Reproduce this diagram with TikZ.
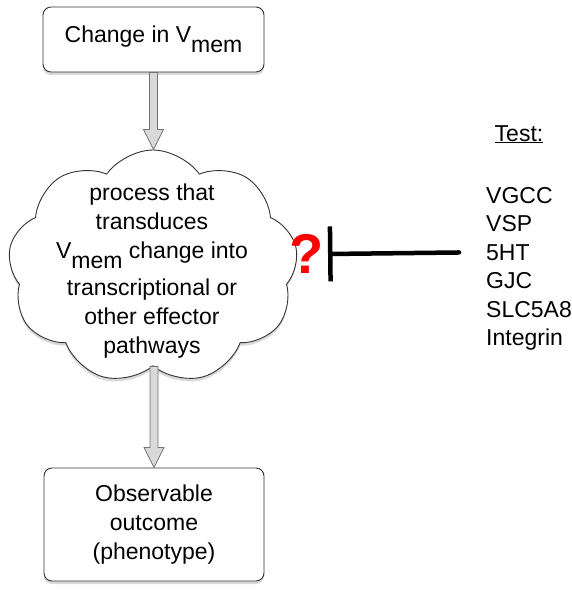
\documentclass[tikz,border=0pt]{standalone}
\usepackage{fontspec}
\setmainfont{Liberation Sans}
\usetikzlibrary{positioning,calc,shapes.symbols,shadows,arrows.meta}
\newcommand{\Vmem}{V\raisebox{-0.42em}{mem}}

\begin{document}
\begin{tikzpicture}[x=1pt, y=-1pt,
    every node/.style={font=\fontsize{23}{29}\selectfont},
    box/.style={draw=black!80, rounded corners=8pt, fill=white, line width=0.9pt, align=center, drop shadow={shadow xshift=0pt, shadow yshift=-3pt, opacity=0.3}},
    fatarrow/.style={draw=black!55, fill=black!15, line width=0.8pt},
    item/.style={anchor=base west, inner sep=3pt}]
    \useasboundingbox (0,0) rectangle (572,599);
    \node[box, minimum width=221pt, minimum height=65pt] (change) at (153.5,39.5) {Change in \Vmem};
    \node[draw=black!80, fill=white, line width=0.9pt, cloud, cloud puffs=9, cloud puff arc=110, cloud ignores aspect, minimum width=290pt, minimum height=234pt, drop shadow={shadow xshift=0pt, shadow yshift=-3pt, opacity=0.3}] (cloud) at (153,267) {};
    \node[align=center] (process) at (152,271) {process that\\transduces\\\Vmem{} change into\\[8pt]transcriptional or\\other effector\\pathways};
    \node[box, minimum width=220pt, minimum height=113pt] (outcome) at (154,524.5) {Observable\\outcome\\(phenotype)};
    % hollow arrows between the steps
    \coordinate (tip1) at (change.south |- cloud.north);
    \draw[fatarrow] ($(change.south)+(-4,0)$) -- ($(tip1)+(-4,-20)$) -- ($(tip1)+(-10,-20)$) -- (tip1)
        -- ($(tip1)+(10,-20)$) -- ($(tip1)+(4,-20)$) -- ($(change.south)+(4,0)$) -- cycle;
    \coordinate (tip2) at (outcome.north);
    \coordinate (foot2) at (outcome.north |- cloud.south);
    \draw[fatarrow] ($(foot2)+(-4,0)$) -- ($(tip2)+(-4,-20)$) -- ($(tip2)+(-10,-20)$) -- (tip2)
        -- ($(tip2)+(10,-20)$) -- ($(tip2)+(4,-20)$) -- ($(foot2)+(4,0)$) -- cycle;
    % candidates to test
    \node[anchor=base] (test) at (519,141) {\underline{Test:}};
    \node[item] (vgcc) at (483,203) {VGCC};
    \node[item] (vsp) at (483,231.5) {VSP};
    \node[item] (ht) at (483,260) {5HT};
    \node[item] (gjc) at (483,288.5) {GJC};
    \node[item] (slc) at (483,317) {SLC5A8};
    \node[item] (integrin) at (483,345.5) {Integrin};
    \coordinate (bar) at (328,254);
    \node[text=red, inner sep=0pt, font=\fontsize{56}{56}\bfseries\selectfont, left=4pt of bar] (q) {?};
    \draw[line width=4.5pt, line cap=round, -{Bar[width=55pt]}, shorten <=24pt] (ht.west) -- (bar);
\end{tikzpicture}
\end{document}
